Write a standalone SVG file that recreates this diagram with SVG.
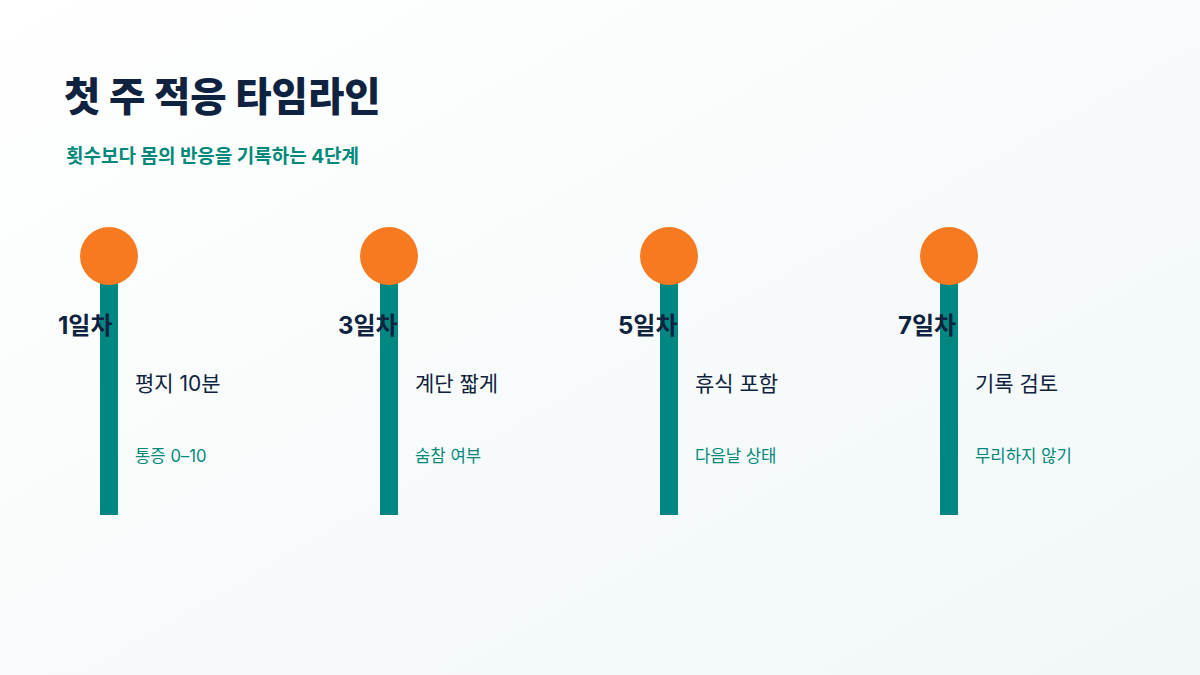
<svg xmlns="http://www.w3.org/2000/svg" width="1200" height="675" viewBox="0 0 1200 675">
<defs>
<linearGradient id="bg" x1="0" y1="0" x2="1" y2="1">
<stop offset="0" stop-color="#ffffff"/>
<stop offset="1" stop-color="#f1f7f7"/>
</linearGradient>
<style>
text{font-family:Inter,"Noto Sans CJK KR",sans-serif}
.title{font-size:39.5px;font-weight:800;fill:#0f2340}
.sub{font-size:19px;font-weight:700;fill:#00897b}
.bar{fill:#008781}
.dot{fill:#f77a20}
.day{font-size:24px;font-weight:700;fill:#0f2340}
.main{font-size:21px;font-weight:400;fill:#0f2340}
.note{font-size:16.7px;font-weight:400;fill:#00897b}
</style>
</defs>
<rect width="1200" height="675" fill="url(#bg)"/>
<text class="title" x="64" y="111">첫 주 적응 타임라인</text>
<text class="sub" x="66" y="163">횟수보다 몸의 반응을 기록하는 4단계</text>
<g id="connectors">
<rect class="bar" x="100" y="270" width="18" height="245"/>
<rect class="bar" x="380" y="270" width="18" height="245"/>
<rect class="bar" x="660" y="270" width="18" height="245"/>
<rect class="bar" x="940" y="270" width="18" height="245"/>
</g>
<g id="node1">
<circle class="dot" cx="109" cy="256" r="29"/>
<text class="day" x="58" y="334">1일차</text>
<text class="main" x="135" y="391">평지 10분</text>
<text class="note" x="135" y="462">통증 0–10</text>
</g>
<g id="node2">
<circle class="dot" cx="389" cy="256" r="29"/>
<text class="day" x="338" y="334">3일차</text>
<text class="main" x="415" y="391">계단 짧게</text>
<text class="note" x="415" y="462">숨참 여부</text>
</g>
<g id="node3">
<circle class="dot" cx="669" cy="256" r="29"/>
<text class="day" x="618" y="334">5일차</text>
<text class="main" x="695" y="391">휴식 포함</text>
<text class="note" x="695" y="462">다음날 상태</text>
</g>
<g id="node4">
<circle class="dot" cx="949" cy="256" r="29"/>
<text class="day" x="898" y="334">7일차</text>
<text class="main" x="975" y="391">기록 검토</text>
<text class="note" x="975" y="462">무리하지 않기</text>
</g>
</svg>
